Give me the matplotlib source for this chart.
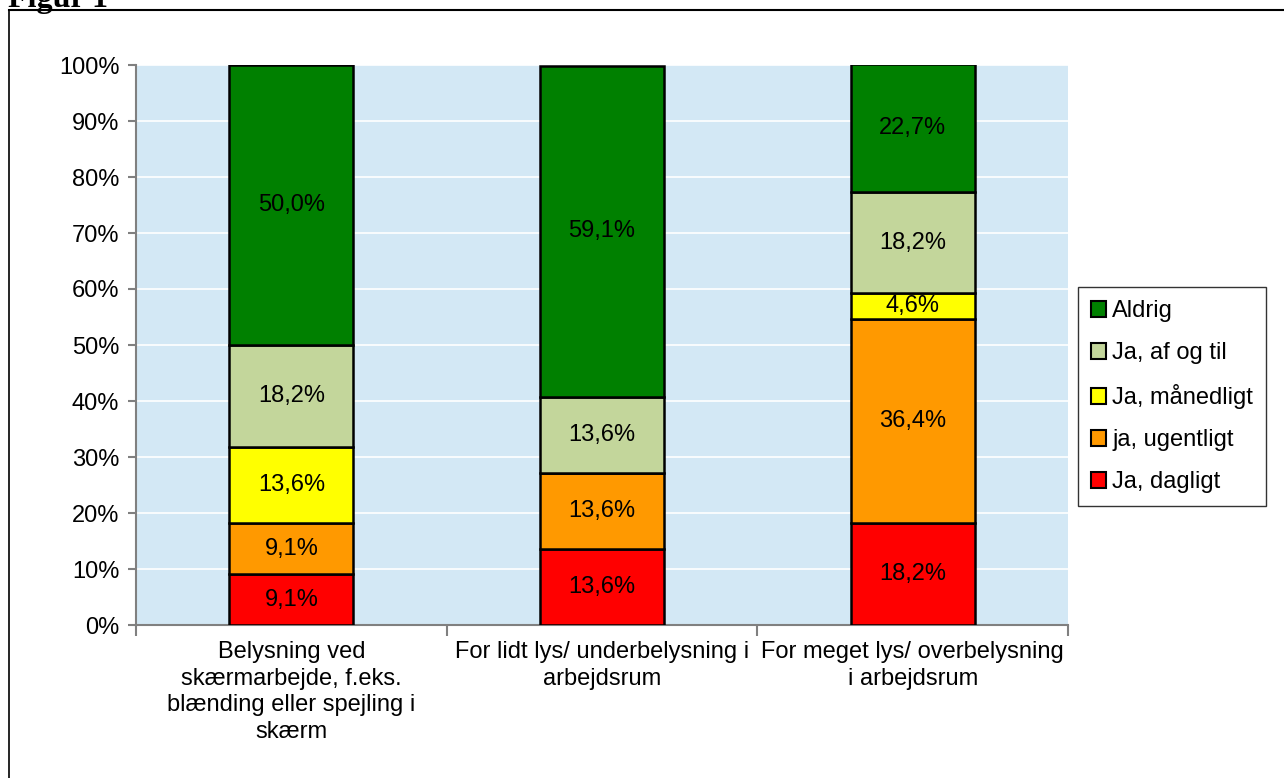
import matplotlib
matplotlib.use("Agg")
import matplotlib.pyplot as plt
import numpy as np

plt.rcParams["font.family"] = ["Liberation Sans", "DejaVu Sans"]

# categories and answer shares (percent), stacked bottom to top
categories = [
    "Belysning ved\nskærmarbejde, f.eks.\nblænding eller spejling i\nskærm",
    "For lidt lys/ underbelysning i\narbejdsrum",
    "For meget lys/ overbelysning\ni arbejdsrum",
]
series_names = ["Ja, dagligt", "ja, ugentligt", "Ja, månedligt", "Ja, af og til", "Aldrig"]
dagligt = [9.1, 13.6, 18.2]
ugentligt = [9.1, 13.6, 36.4]
maanedligt = [13.6, 0.0, 4.6]
af_og_til = [18.2, 13.6, 18.2]
aldrig = [50.0, 59.1, 22.7]
colors = ["#FF0000", "#FF9900", "#FFFF00", "#C3D69B", "#008000"]

values = [dagligt, ugentligt, maanedligt, af_og_til, aldrig]
FS = 17

fig = plt.figure(figsize=(12.84, 7.78), dpi=100)
ax = fig.add_axes([136 / 1284, 1 - 625 / 778, 932 / 1284, 560 / 778])
ax.set_facecolor("#D3E8F5")

x = np.arange(len(categories))
bottom = np.zeros(len(categories))
handles = []
for name, vals, col in zip(series_names, values, colors):
    vals = np.array(vals)
    bars = ax.bar(x, vals, width=0.4, bottom=bottom, color=col,
                  edgecolor="black", linewidth=1.8, label=name, zorder=3)
    handles.append(bars)
    for xi, v, b in zip(x, vals, bottom):
        if v > 0:
            ax.text(xi, b + v / 2, f"{v:.1f}%".replace(".", ","),
                    ha="center", va="center", fontsize=FS, zorder=4)
    bottom += vals

ax.set_xlim(-0.5, 2.5)
ax.set_ylim(0, 100)
ax.set_yticks(np.arange(0, 101, 10))
ax.set_yticklabels([f"{t}%" for t in range(0, 101, 10)], fontsize=FS)
ax.yaxis.grid(True, color="white", linewidth=1.2, zorder=1)
ax.set_axisbelow(True)

# category labels centred, ticks at the boundaries
ax.set_xticks([-0.5, 0.5, 1.5, 2.5])
ax.set_xticklabels([])
ax.tick_params(axis="x", length=8, color="#808080", width=1.5)
ax.tick_params(axis="y", length=6, color="#808080", width=1.5, pad=6)
for xi, lab in zip(x, categories):
    ax.text(xi, -2.9, lab, ha="center", va="top", fontsize=FS,
            linespacing=1.26, transform=ax.transData)

for side in ["top", "right"]:
    ax.spines[side].set_visible(False)
for side in ["left", "bottom"]:
    ax.spines[side].set_color("#808080")
    ax.spines[side].set_linewidth(1.5)

# legend, top entry first
leg = fig.legend(handles[::-1], series_names[::-1], loc="upper left",
                 bbox_to_anchor=(1078 / 1284, 1 - 287 / 778), fontsize=FS,
                 frameon=True, fancybox=False, edgecolor="black",
                 handlelength=0.65, handleheight=0.65, handletextpad=0.25,
                 labelspacing=0.85, borderpad=0.55, borderaxespad=0)
leg.get_frame().set_linewidth(1.0)
for h in leg.legend_handles:
    h.set_linewidth(1.5)

# outer frame and caption
fig.add_artist(plt.Line2D([9 / 1284, 9 / 1284], [0, 1 - 10 / 778],
                          color="black", linewidth=1.2, transform=fig.transFigure))
fig.add_artist(plt.Line2D([9 / 1284, 1], [1 - 10 / 778, 1 - 10 / 778],
                          color="black", linewidth=1.5, transform=fig.transFigure))
fig.text(8 / 1284, 1 - 7 / 778, "Figur 1", family="Liberation Serif",
         fontweight="bold", fontsize=23, va="baseline", ha="left")

fig.savefig("out.png", dpi=100)
